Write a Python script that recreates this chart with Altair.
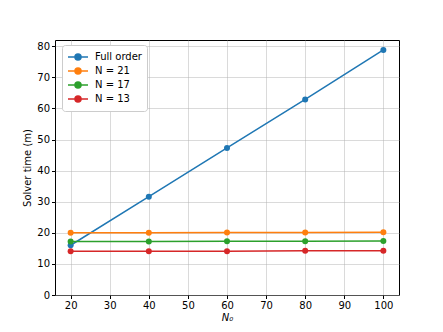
import altair as alt
import pandas as pd

n0 = [20, 40, 60, 80, 100]
full_order = [16.0, 31.6, 47.3, 62.9, 78.8]
n21 = [20.0, 20.0, 20.1, 20.1, 20.2]
n17 = [17.2, 17.2, 17.3, 17.3, 17.4]
n13 = [14.1, 14.1, 14.1, 14.2, 14.2]

series = ["Full order", "N = 21", "N = 17", "N = 13"]
colors = ["#1f77b4", "#ff7f0e", "#2ca02c", "#d62728"]

rows = []
for name, vals in zip(series, [full_order, n21, n17, n13]):
    for x, y in zip(n0, vals):
        rows.append({"N0": x, "time": y, "series": name})
df = pd.DataFrame(rows)

symbol_path = ("M-1,0L1,0M0.3,0A0.3,0.3,0,1,1,-0.3,0"
               "A0.3,0.3,0,1,1,0.3,0Z")

color = alt.Color(
    "series:N",
    scale=alt.Scale(domain=series, range=colors),
    sort=series,
    legend=alt.Legend(
        title=None,
        orient="none",
        legendX=7,
        legendY=5,
        symbolType=symbol_path,
        symbolSize=400,
        symbolStrokeWidth=1.5,
        clipHeight=14,
        labelOffset=6,
        labelFontSize=10,
        labelFont="DejaVu Sans",
        fillColor="white",
        strokeColor="#cccccc",
        cornerRadius=3,
        padding=5,
        rowPadding=0,
    ),
)

x = alt.X(
    "N0:Q",
    scale=alt.Scale(domain=[16, 104], nice=False, zero=False),
    axis=alt.Axis(values=[20, 30, 40, 50, 60, 70, 80, 90, 100], title="N₀",
                  titleFontStyle="italic"),
)
y = alt.Y(
    "time:Q",
    scale=alt.Scale(domain=[0, 82], nice=False),
    axis=alt.Axis(values=[0, 10, 20, 30, 40, 50, 60, 70, 80], title="Solver time (m)"),
)

base = alt.Chart(df)
lines = base.mark_line(strokeWidth=1.5).encode(x=x, y=y, color=color, detail="series:N")
points = base.mark_point(filled=True, size=36, opacity=1).encode(x=x, y=y, color=color)

chart = (
    alt.layer(lines, points)
    .properties(width=344, height=255, autosize=alt.AutoSizeParams(type="none"),
                padding={"left": 47, "top": 32, "right": 36, "bottom": 29})
    .configure_view(stroke="black", strokeWidth=1)
    .configure_axis(
        grid=True,
        gridColor="#b0b0b0",
        gridOpacity=0.6,
        gridWidth=0.8,
        domain=False,
        tickColor="black",
        tickSize=3.5,
        labelColor="black",
        labelFont="DejaVu Sans",
        labelFontSize=10,
        titleFont="DejaVu Sans",
        titleFontSize=10,
        titleFontWeight="normal",
        titleColor="black",
        labelPadding=2,
    )
    .configure_axisX(titlePadding=2)
    .configure_axisY(titlePadding=4)
)

chart.save("out.html", embed_options={"renderer": "svg", "actions": False})
